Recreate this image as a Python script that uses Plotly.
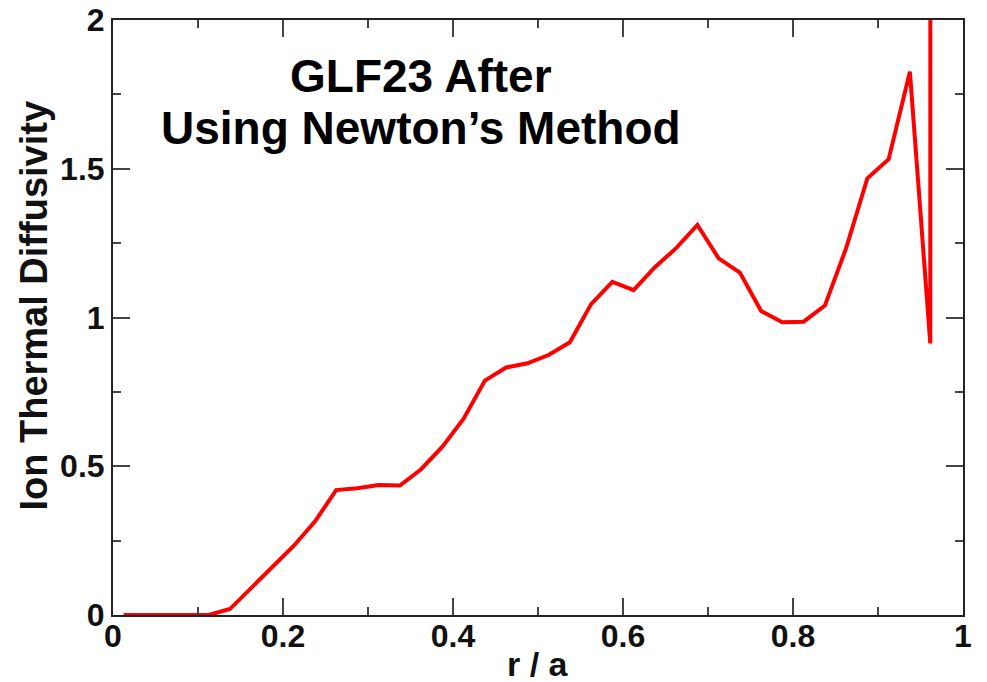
import plotly.graph_objects as go

# r/a grid and ion thermal diffusivity values
r_over_a = [0.0125, 0.0375, 0.0625, 0.0875, 0.1125, 0.1375, 0.1625, 0.1875,
            0.2125, 0.2375, 0.2625, 0.2875, 0.3125, 0.3375, 0.3625, 0.3875,
            0.4125, 0.4375, 0.4625, 0.4875, 0.5125, 0.5375, 0.5625, 0.5875,
            0.6125, 0.6375, 0.6625, 0.6875, 0.7125, 0.7375, 0.7625, 0.7875,
            0.8125, 0.8375, 0.8625, 0.8875, 0.9125, 0.9375, 0.9615, 0.9620]
chi_i = [0.0, 0.0, 0.0, 0.0, 0.0, 0.02, 0.09, 0.16,
         0.232, 0.314, 0.42, 0.426, 0.437, 0.435, 0.49, 0.566,
         0.66, 0.788, 0.832, 0.846, 0.874, 0.917, 1.045, 1.12,
         1.092, 1.169, 1.233, 1.311, 1.199, 1.151, 1.022, 0.984,
         0.986, 1.040, 1.233, 1.468, 1.532, 1.826, 0.913, 12.0]

x_ticks = [0, 0.2, 0.4, 0.6, 0.8, 1]
x_ticklabels = ["0", "0.2", "0.4", "0.6", "0.8", "1"]
y_ticks = [0, 0.5, 1, 1.5, 2]
y_ticklabels = ["0", "0.5", "1", "1.5", "2"]

title_lines = ["GLF23 After", "Using Newton’s Method"]
x_title = "r / a"
y_title = "Ion Thermal Diffusivity"

FONT = "Liberation Sans, Arial, Helvetica, sans-serif"

fig = go.Figure()
fig.add_trace(go.Scatter(x=r_over_a, y=chi_i, mode="lines",
                         line=dict(color="#ff0000", width=4),
                         showlegend=False, hoverinfo="x+y"))

axis_common = dict(
    showline=True, linecolor="#222222", linewidth=2, mirror="ticks",
    ticks="inside", ticklen=17, tickwidth=2, tickcolor="#444444",
    showgrid=False, zeroline=False, automargin=False,
    tickfont=dict(family=FONT, size=32, color="#111111", weight="bold"),
)

fig.update_xaxes(range=[0, 1], tickvals=x_ticks, ticktext=x_ticklabels,
                 minor=dict(ticks="inside", ticklen=8, tickwidth=2,
                            tickcolor="#444444", dtick=0.1, showgrid=False),
                 ticklabelstandoff=-8,
                 **axis_common)
fig.update_yaxes(range=[0, 2], tickvals=y_ticks, ticktext=y_ticklabels,
                 minor=dict(ticks="inside", ticklen=8, tickwidth=2,
                            tickcolor="#444444", dtick=0.25, showgrid=False),
                 ticklabelstandoff=0,
                 **axis_common)

title_y = [0.906, 0.819]
for line, yy in zip(title_lines, title_y):
    fig.add_annotation(text=line, xref="paper", yref="paper",
                       x=0.362, y=yy, xanchor="center", yanchor="middle",
                       showarrow=False, align="center",
                       font=dict(family=FONT, size=46, color="#000000", weight="bold"))
fig.add_annotation(text=x_title, xref="paper", yref="paper",
                   x=0.5, y=-0.083, xanchor="center", yanchor="middle",
                   showarrow=False,
                   font=dict(family=FONT, size=34, color="#111111", weight="bold"))
fig.add_annotation(text=y_title, xref="paper", yref="paper",
                   x=-0.093, y=0.52, xanchor="center", yanchor="middle",
                   textangle=-90, showarrow=False,
                   font=dict(family=FONT, size=38, color="#111111", weight="bold"))

fig.update_layout(width=987, height=682,
                  margin=dict(l=113, r=24, t=20, b=67),
                  paper_bgcolor="white", plot_bgcolor="white")

fig.write_html("out.html")
